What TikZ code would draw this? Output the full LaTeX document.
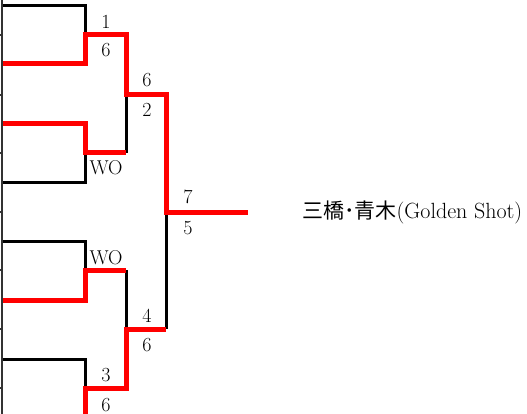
\documentclass[tikz,border=0pt]{standalone}
\usepackage{fontspec}
\usepackage{tikz}
\newfontfamily\cjk{Noto Sans CJK JP}
\tikzstyle{lost} = [draw, black, line width=3pt]
\tikzstyle{won} = [draw, red, line width=5pt]
\tikzstyle{rule} = [draw, black!80, line width=1.5pt]
\tikzstyle{score} = [font=\fontsize{20}{22}\selectfont, inner sep=0pt]

\begin{document}
\begin{tikzpicture}[x=1pt, y=-1pt]
    \useasboundingbox (0,0) rectangle (527,414);
    % entries
    \coordinate (e1) at (3,6);
    \coordinate (e2) at (3,64);
    \coordinate (e3) at (3,124);
    \coordinate (e4) at (3,183);
    \coordinate (e5) at (3,241);
    \coordinate (e6) at (3,300);
    \coordinate (e7) at (3,359);
    \coordinate (e8) at (85,414);
    % rounds
    \coordinate (r1a) at (85,35);
    \coordinate (r1b) at (85,153);
    \coordinate (r1c) at (85,270);
    \coordinate (r1d) at (85,388);
    \coordinate (r2a) at (126,95);
    \coordinate (r2b) at (126,329);
    \coordinate (fin) at (166,212);
    \coordinate (champ) at (248,212);

    % left rule
    \path [rule] (2,0) -- (2,414);
    \foreach \y in {35,95,153,212,270,329,388}
        \path [rule] (0,\y) -- (3,\y);

    % losers
    \path [lost] (e1) -| (r1a);
    \path [lost] (e4) -| (r1b);
    \path [lost] (r1b -| r2a) -- (r2a);
    \path [lost] (e5) -| (r1c);
    \path [lost] (e7) -| (r1d);
    \path [lost] (r1c -| r2b) -- (r2b);
    \path [lost] (r2b -| fin) -- (fin);

    % winners
    \path [won] (e2) -| (r1a) -| (r2a) -| (fin) -- (champ);
    \path [won] (e3) -| (r1b) -- (r1b -| r2a);
    \path [won] (e6) -| (r1c) -- (r1c -| r2b);
    \path [won] (e8) -- (r1d) -| (r2b) -- (r2b -| fin);

    % scores
    \node [score] (s1a) at (106,22) {1};
    \node [score] (s1b) at (106,50) {6};
    \node [score] (s2b) at (106,168) {WO};
    \node [score] (s3a) at (147,80) {6};
    \node [score] (s3b) at (147,110) {2};
    \node [score] (s4a) at (188,197) {7};
    \node [score] (s4b) at (188,228) {5};
    \node [score] (s5a) at (106,258) {WO};
    \node [score] (s6a) at (147,316) {4};
    \node [score] (s6b) at (147,345) {6};
    \node [score] (s7a) at (106,375) {3};
    \node [score] (s7b) at (106,405) {6};

    \node [anchor=west, inner sep=0pt, font=\fontsize{22}{24}\selectfont] (pair) at (302,212) {{\cjk\fontsize{21}{24}\selectfont 三橋･青木}(Golden Shot)};
\end{tikzpicture}
\end{document}
